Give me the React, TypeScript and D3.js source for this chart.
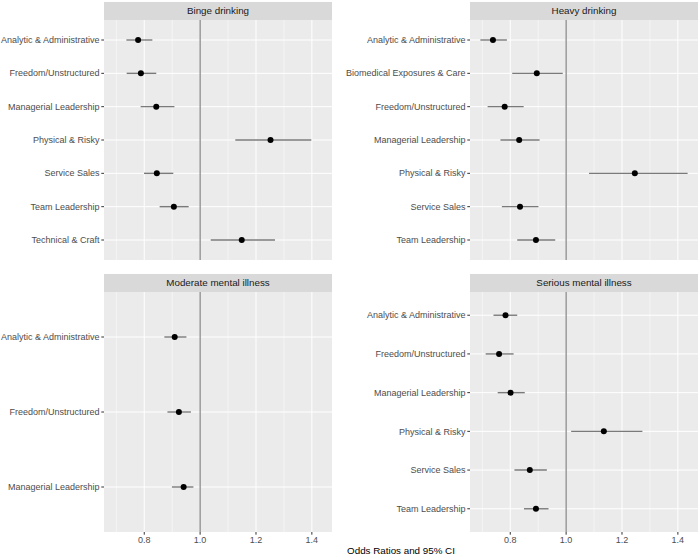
import React from "react";
import * as d3 from "d3";

const bingeCats = ["Analytic & Administrative", "Freedom/Unstructured", "Managerial Leadership", "Physical & Risky", "Service Sales", "Team Leadership", "Technical & Craft"];
const bingeOR = [0.778, 0.788, 0.843, 1.252, 0.845, 0.906, 1.149];
const bingeLo = [0.736, 0.737, 0.787, 1.126, 0.799, 0.855, 1.038];
const bingeHi = [0.829, 0.843, 0.908, 1.398, 0.904, 0.959, 1.268];

const heavyCats = ["Analytic & Administrative", "Biomedical Exposures & Care", "Freedom/Unstructured", "Managerial Leadership", "Physical & Risky", "Service Sales", "Team Leadership"];
const heavyOR = [0.738, 0.895, 0.780, 0.832, 1.246, 0.835, 0.892];
const heavyLo = [0.693, 0.807, 0.719, 0.765, 1.082, 0.770, 0.825];
const heavyHi = [0.788, 0.988, 0.848, 0.905, 1.435, 0.901, 0.961];

const moderateCats = ["Analytic & Administrative", "Freedom/Unstructured", "Managerial Leadership"];
const moderateOR = [0.909, 0.924, 0.941];
const moderateLo = [0.872, 0.883, 0.899];
const moderateHi = [0.951, 0.967, 0.976];

const seriousCats = ["Analytic & Administrative", "Freedom/Unstructured", "Managerial Leadership", "Physical & Risky", "Service Sales", "Team Leadership"];
const seriousOR = [0.783, 0.760, 0.801, 1.135, 0.870, 0.892];
const seriousLo = [0.740, 0.712, 0.755, 1.018, 0.815, 0.849];
const seriousHi = [0.825, 0.812, 0.852, 1.273, 0.931, 0.937];

const xTicks = [0.8, 1.0, 1.2, 1.4];
const xMinor = [0.7, 0.9, 1.1, 1.3];
const xTitle = "Odds Ratios and 95% CI";

const W = 700;
const H = 558;
const FONT = "'Liberation Sans', Arial, Helvetica, sans-serif";

type Panel = {
  title: string;
  cats: string[];
  or: number[];
  lo: number[];
  hi: number[];
  col: number;
  row: number;
};

const panels: Panel[] = [
  { title: "Binge drinking", cats: bingeCats, or: bingeOR, lo: bingeLo, hi: bingeHi, col: 0, row: 0 },
  { title: "Heavy drinking", cats: heavyCats, or: heavyOR, lo: heavyLo, hi: heavyHi, col: 1, row: 0 },
  { title: "Moderate mental illness", cats: moderateCats, or: moderateOR, lo: moderateLo, hi: moderateHi, col: 0, row: 1 },
  { title: "Serious mental illness", cats: seriousCats, or: seriousOR, lo: seriousLo, hi: seriousHi, col: 1, row: 1 },
];

const colX = [
  [104, 332],
  [470, 698],
];
const rowY = [
  { strip: 2, top: 20, bottom: 260 },
  { strip: 274, top: 292, bottom: 532 },
];

const allLo = d3.min(panels.flatMap((p) => p.lo)) as number;
const allHi = d3.max(panels.flatMap((p) => p.hi)) as number;
const span = allHi - allLo;
const xDomain: [number, number] = [allLo - 0.05 * span, allHi + 0.05 * span];

function PanelView({ p }: { p: Panel }) {
  const [x0, x1] = colX[p.col];
  const { strip, top, bottom } = rowY[p.row];
  const x = d3.scaleLinear().domain(xDomain).range([x0, x1]);
  const y = d3.scalePoint<string>().domain(p.cats).range([top, bottom]).padding(0.6);
  const showX = p.row === 1;
  return (
    <g>
      <rect x={x0} y={strip} width={x1 - x0} height={top - strip} fill="#d9d9d9" />
      <text x={(x0 + x1) / 2} y={(strip + top) / 2} dy="0.35em" textAnchor="middle" fontSize={9.8} fill="#1a1a1a" fontFamily={FONT}>
        {p.title}
      </text>
      <rect x={x0} y={top} width={x1 - x0} height={bottom - top} fill="#ebebeb" />
      {xMinor.map((t) => (
        <line key={"m" + t} x1={x(t)} x2={x(t)} y1={top} y2={bottom} stroke="#fff" strokeWidth={0.5} />
      ))}
      {xTicks.map((t) => (
        <line key={"M" + t} x1={x(t)} x2={x(t)} y1={top} y2={bottom} stroke="#fff" strokeWidth={1} />
      ))}
      {p.cats.map((c) => (
        <line key={"h" + c} x1={x0} x2={x1} y1={y(c)} y2={y(c)} stroke="#fff" strokeWidth={1} />
      ))}
      <line x1={x(1)} x2={x(1)} y1={top} y2={bottom} stroke="#777" strokeWidth={1.1} />
      {p.cats.map((c, i) => (
        <g key={"d" + c}>
          <line x1={x(p.lo[i])} x2={x(p.hi[i])} y1={y(c)} y2={y(c)} stroke="#7a7a7a" strokeWidth={1.4} />
          <circle cx={x(p.or[i])} cy={y(c)} r={3} fill="#000" />
        </g>
      ))}
      {p.cats.map((c) => (
        <g key={"y" + c}>
          <line x1={x0 - 2.7} x2={x0} y1={y(c)} y2={y(c)} stroke="#333" strokeWidth={1} />
          <text x={x0 - 4.5} y={y(c)} dy="0.35em" textAnchor="end" fontSize={9} fill="#4d4d4d" fontFamily={FONT}>
            {c}
          </text>
        </g>
      ))}
      {showX &&
        xTicks.map((t) => (
          <g key={"x" + t}>
            <line x1={x(t)} x2={x(t)} y1={bottom} y2={bottom + 2.7} stroke="#333" strokeWidth={1} />
            <text x={x(t)} y={bottom + 4} dy="0.8em" textAnchor="middle" fontSize={9} fill="#4d4d4d" fontFamily={FONT}>
              {t.toFixed(1)}
            </text>
          </g>
        ))}
    </g>
  );
}

export default function App() {
  return (
    <svg width={W} height={H} style={{ position: "absolute", left: 0, top: 0, background: "#fff" }}>
      <rect x={0} y={0} width={W} height={H} fill="#fff" />
      {panels.map((p) => (
        <PanelView key={p.title} p={p} />
      ))}
      <text x={(colX[0][0] + colX[1][1]) / 2} y={551} dy="0.35em" textAnchor="middle" fontSize={9.8} fill="#000" fontFamily={FONT}>
        {xTitle}
      </text>
    </svg>
  );
}
